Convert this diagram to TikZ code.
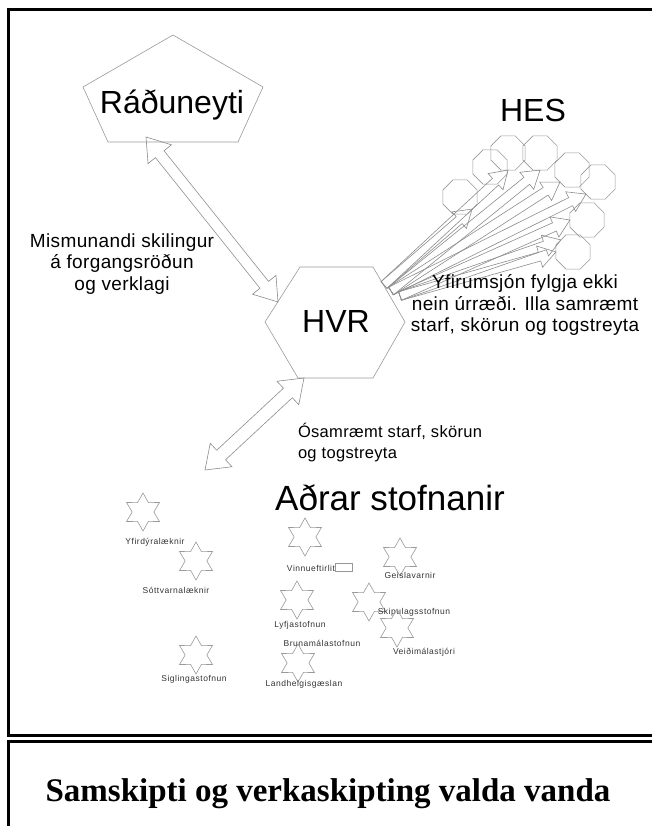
\documentclass[tikz,border=0pt]{standalone}
\usepackage{fontspec}
\setmainfont{Liberation Sans}
\newfontfamily\titlefont{Liberation Serif}
\usetikzlibrary{calc,shapes.geometric}

\newcommand{\blockarrow}[5]{%
  \coordinate (ba-n) at ($(#5)!#3!(#4)$);
  \draw[arrowline] ($(#4)!#1!90:(#5)$) -- ($(ba-n)!#1!90:(#5)$)
    -- ($(ba-n)!#2!90:(#5)$) -- (#5) -- ($(ba-n)!#2!-90:(#5)$)
    -- ($(ba-n)!#1!-90:(#5)$) -- ($(#4)!#1!-90:(#5)$) -- cycle;}
\newcommand{\duoarrow}[5]{%
  \coordinate (da-a) at ($(#4)!#3!(#5)$);
  \coordinate (da-b) at ($(#5)!#3!(#4)$);
  \draw[arrowline] (#4) -- ($(da-a)!#2!90:(#5)$) -- ($(da-a)!#1!90:(#5)$)
    -- ($(da-b)!#1!90:(#5)$) -- ($(da-b)!#2!90:(#5)$) -- (#5)
    -- ($(da-b)!#2!-90:(#5)$) -- ($(da-b)!#1!-90:(#5)$)
    -- ($(da-a)!#1!-90:(#5)$) -- ($(da-a)!#2!-90:(#5)$) -- cycle;}

\begin{document}
\begin{tikzpicture}[x=1pt,y=-1pt,
  every node/.style={inner sep=0pt, outer sep=0pt},
  bigtext/.style={font=\fontsize{32}{32}\selectfont},
  midtext/.style={font=\fontsize{19}{21.5}\selectfont\addfontfeatures{LetterSpace=2}, align=center},
  insttext/.style={font=\fontsize{8.5}{9}\selectfont\addfontfeatures{LetterSpace=6}, text=black!80},
  outline/.style={draw=black!40, line width=0.6pt},
  arrowline/.style={draw=black!45, line width=0.6pt},
  starnode/.style={star, star points=6, star point ratio=1.75, minimum size=38pt, draw=black!40, line width=0.6pt},
  octnode/.style={regular polygon, regular polygon sides=8, minimum size=37pt, draw=black!40, line width=0.6pt},
  boxframe/.style={line width=3pt}]
\useasboundingbox (0,0) rectangle (652,826);
\clip (0,0) rectangle (652,826);

\draw[boxframe] (8,10) rectangle (700,735);
\draw[boxframe] (8,741) rectangle (700,880);

\draw[outline] (173,35) -- (263,87) -- (238,142) -- (108,142) -- (83,87) -- cycle;
\node[bigtext, anchor=base] (rad) at (172,114) {Ráðuneyti};

\draw[outline] (300,267) -- (373,267) -- (405,322) -- (373,378) -- (298,378) -- (265,322) -- cycle;
\node[bigtext, anchor=base] (hvr) at (336,332) {HVR};

\node[bigtext, anchor=base] (hes) at (533,122) {HES};
\node[font=\fontsize{35}{35}\selectfont, anchor=base] (adrar) at (390,510) {Aðrar stofnanir};

\node[octnode] (hes1) at (508,153) {};
\node[octnode] (hes2) at (540,153) {};
\node[octnode] (hes3) at (490,167) {};
\node[octnode] (hes4) at (572,170) {};
\node[octnode] (hes5) at (598,182) {};
\node[octnode] (hes6) at (460,197) {};
\node[octnode] (hes7) at (587,220) {};
\node[octnode] (hes8) at (573,252) {};

\coordinate (radend) at (146,137);
\coordinate (hvrleft) at (278,302);
\coordinate (hvrdown) at (304,378);
\coordinate (adrarend) at (205,470);
\coordinate (hesa) at (384,285);
\coordinate (hesb) at (391,291);
\coordinate (hesc) at (400,296);

\duoarrow{5.5pt}{15pt}{22pt}{radend}{hvrleft}
\duoarrow{6.5pt}{16pt}{22pt}{hvrdown}{adrarend}

\blockarrow{4.5pt}{11pt}{17pt}{hesa}{hes1.south}
\blockarrow{4.5pt}{11pt}{17pt}{hesa}{hes6.south east}
\blockarrow{4.5pt}{11pt}{17pt}{hesb}{hes2.south}
\blockarrow{4.5pt}{11pt}{17pt}{hesb}{hes4.south west}
\blockarrow{4.5pt}{11pt}{17pt}{hesb}{hes5.south west}
\blockarrow{4.5pt}{11pt}{17pt}{hesc}{hes7.west}
\blockarrow{4.5pt}{11pt}{17pt}{hesc}{hes8.north west}
\blockarrow{4.5pt}{11pt}{17pt}{hesc}{hes8.west}

\node[midtext] (skil) at (122,264) {Mismunandi skilingur\\á forgangsröðun\\og verklagi};
\node[midtext] (yfir) at (525,305) {Yfirumsjón fylgja ekki\\nein úrræði. Illa samræmt\\starf, skörun og togstreyta};
\node[font=\fontsize{16.5}{21}\selectfont\addfontfeatures{LetterSpace=2}, align=left, anchor=north west] (osam) at (298,423) {Ósamræmt starf, skörun\\og togstreyta};

\node[starnode] (yfird) at (143,512) {};
\node[insttext] (yfirdl) at (155,542) {Yfirdýralæknir};
\node[starnode] (sottv) at (196,561) {};
\node[insttext] (sottvl) at (176,590) {Sóttvarnalæknir};
\node[starnode] (vinnu) at (305,537) {};
\node[insttext] (vinnul) at (311,568) {Vinnueftirlit};
\draw[outline] (335,563) rectangle (352,571);
\node[starnode] (geisl) at (400,557) {};
\node[insttext] (geisll) at (410,575) {Geislavarnir};
\node[starnode] (lyfja) at (297,600) {};
\node[insttext] (lyfjal) at (300,625) {Lyfjastofnun};
\node[starnode] (skipu) at (369,602) {};
\node[insttext] (skipul) at (414,612) {Skipulagsstofnun};
\node[starnode] (veidi) at (397,628) {};
\node[insttext] (veidil) at (424,652) {Veiðimálastjóri};
\node[insttext] (brunal) at (322,643) {Brunamálastofnun};
\node[starnode] (landh) at (298,663) {};
\node[insttext] (landhl) at (304,684) {Landhelgisgæslan};
\node[starnode] (sigl) at (196,655) {};
\node[insttext] (sigll) at (194,679) {Siglingastofnun};

\node[font=\titlefont\bfseries\fontsize{33}{33}\selectfont, anchor=base] (title) at (328,801) {Samskipti og verkaskipting valda vanda};
\end{tikzpicture}
\end{document}
